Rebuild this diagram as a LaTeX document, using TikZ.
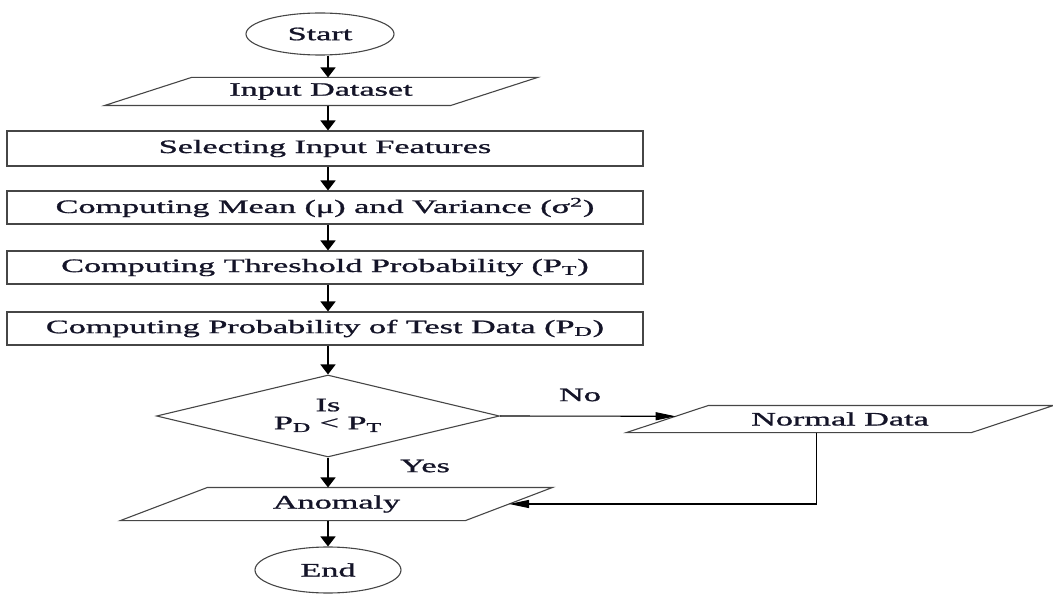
\documentclass[tikz,border=0pt]{standalone}
\usepackage{fontspec}
\usepackage{graphicx}
\setmainfont{Liberation Serif}[FakeBold=0.9]
\usetikzlibrary{shapes.geometric,arrows.meta,calc}
\newcommand{\wtxt}[1]{\scalebox{1.8}[1]{#1}}
\definecolor{txtc}{RGB}{20,20,40}
\definecolor{linec}{RGB}{70,70,70}
\begin{document}
\begin{tikzpicture}[x=1pt,y=-1pt,
  base/.style={draw=linec,line width=1.1pt,inner sep=0pt,text=txtc,font=\fontsize{19}{21}\selectfont},
  term/.style={base,ellipse},
  procbox/.style={base,rectangle,minimum width=636pt},
  iobody/.style={base,draw=none,rectangle},
  outl/.style={draw=linec,line width=1.1pt,line join=miter},
  decbox/.style={base,diamond,aspect=4.18,minimum width=343pt,minimum height=82pt},
  lbl/.style={inner sep=0pt,text=txtc,font=\fontsize{19}{21}\selectfont},
  varr/.style={draw=black,line width=1.6pt,-{Triangle[length=10pt,width=15pt]}},
  harr/.style={draw=black,line width=1.1pt,-{Triangle[length=20pt,width=8pt]}}
]
\useasboundingbox (0,0) rectangle (1053,596);
\coordinate (spine) at (328,0);

\node[term,minimum width=148pt,minimum height=42pt] (start) at (320,34) {\wtxt{Start}};
\node[iobody,minimum width=258pt,minimum height=27pt] (inp) at (321,91.5) {\wtxt{Input Dataset}};
\draw[outl] ($(inp.south west)+(-87,0)$) -- (inp.north west) -- ($(inp.north east)+(87,0)$) -- (inp.south east) -- cycle;
\node[procbox,minimum height=35pt] (sel) at (325,148.5) {\wtxt{Selecting Input Features}};
\node[procbox,minimum height=33pt] (mean) at (325,207.5) {\wtxt{Computing Mean (μ) and Variance (σ\textsuperscript{2})}};
\node[procbox,minimum height=33pt] (thr) at (325,267.5) {\wtxt{Computing Threshold Probability (P\textsubscript{T})}};
\node[procbox,minimum height=33pt] (prob) at (325,328.5) {\wtxt{Computing Probability of Test Data (P\textsubscript{D})}};
\node[decbox] (dia) at (328,416) {\begin{tabular}{@{}c@{}}\wtxt{Is}\\[-3pt]\wtxt{P\textsubscript{D} < P\textsubscript{T}}\end{tabular}};
\node[iobody,minimum width=257pt,minimum height=32pt] (anom) at (336.5,504) {\wtxt{Anomaly}};
\draw[outl] ($(anom.south west)+(-87,0)$) -- (anom.north west) -- ($(anom.north east)+(87,0)$) -- (anom.south east) -- cycle;
\node[term,minimum width=146pt,minimum height=46pt] (end) at (328,570) {\wtxt{End}};
\node[iobody,minimum width=262pt,minimum height=26pt] (nd) at (840,419) {\wtxt{Normal Data}};
\draw[outl] ($(nd.south west)+(-82,0)$) -- (nd.north west) -- ($(nd.north east)+(82,0)$) -- (nd.south east) -- cycle;

\node[lbl] (nolbl) at (580,395) {\wtxt{No}};
\node[lbl] (yeslbl) at (425,466) {\wtxt{Yes}};

\draw[varr] (start.south -| spine) -- (inp.north -| spine);
\draw[varr] (inp.south -| spine) -- (sel.north -| spine);
\draw[varr] (sel.south -| spine) -- (mean.north -| spine);
\draw[varr] (mean.south -| spine) -- (thr.north -| spine);
\draw[varr] (thr.south -| spine) -- (prob.north -| spine);
\draw[varr] (prob.south -| spine) -- (dia.north);
\draw[varr] (dia.south) -- (anom.north -| spine);
\draw[varr] (anom.south -| spine) -- (end.north);
\draw[harr] (dia.east) -- ($($(nd.south west)+(-82,0)$)!0.6!(nd.north west)$);
\draw[harr] ($(nd.south west)+(108,0)$) |- ($(anom.south east)!0.5!($(anom.north east)+(87,0)$)$);
\end{tikzpicture}
\end{document}
